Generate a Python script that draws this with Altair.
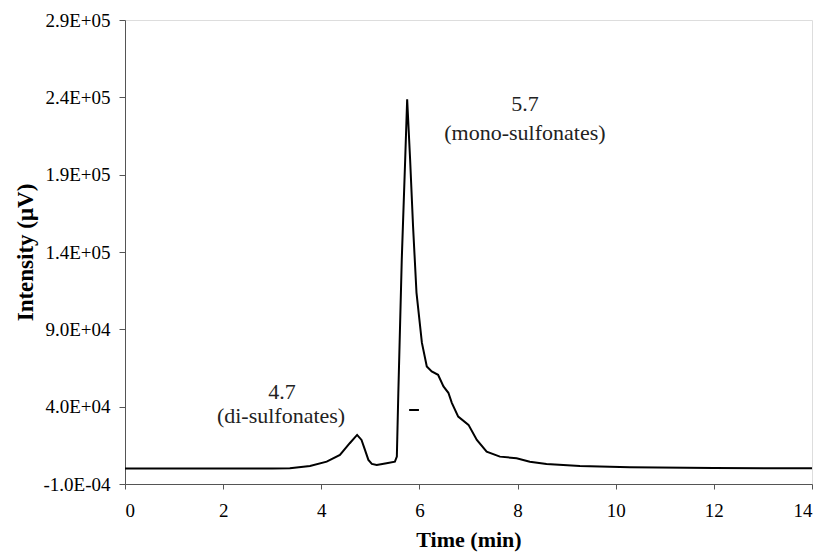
import altair as alt
import pandas as pd

# chromatogram trace
time_min = [0.0, 1.0, 2.0, 3.0, 3.36, 3.77, 4.11, 4.38, 4.58, 4.73, 4.82, 4.89, 4.96,
            5.03, 5.13, 5.33, 5.50, 5.54, 5.57, 5.64, 5.71, 5.75, 5.81, 5.87, 5.94,
            6.05, 6.15, 6.25, 6.38, 6.49, 6.59, 6.66, 6.79, 7.00, 7.17, 7.37, 7.64,
            7.98, 8.25, 8.59, 9.27, 10.29, 12.0, 14.0]
intensity = [0, 0, 0, 100, 200, 1660, 4450, 8790, 16370, 21750, 18500, 12030, 5550,
             2960, 2310, 3410, 4450, 7690, 48970, 135150, 199950, 238800, 199950, 156700, 113770,
             81370, 66000, 62770, 60630, 53050, 48970, 42490, 33610, 28230, 18510, 10930, 7690,
             6650, 4450, 2960, 1660, 820, 300, 200]

tick_values = [-10000, 40000, 90000, 140000, 190000, 240000, 290000]
tick_labels = ["-1.0E-04", "4.0E+04", "9.0E+04", "1.4E+05", "1.9E+05", "2.4E+05", "2.9E+05"]

ann_text = ["5.7", "(mono-sulfonates)", "4.7", "(di-sulfonates)"]
ann_t = [8.15, 8.15, 3.20, 3.18]
ann_v = [236000, 217000, 49500, 33800]

dash_t = [5.79]
dash_t2 = [5.99]
dash_v = [37850]

FONT = "Liberation Serif"

df = pd.DataFrame({"t": time_min, "v": intensity})
ann = pd.DataFrame({"label": ann_text, "t": ann_t, "v": ann_v})
dash = pd.DataFrame({"t": dash_t, "t2": dash_t2, "v": dash_v})

label_expr = "{" + ",".join(f"'{v}':'{l}'" for v, l in zip(tick_values, tick_labels)) + "}[datum.value]"

x_scale = alt.Scale(domain=[0, 14], nice=False, zero=False)
y_scale = alt.Scale(domain=[-10000, 290000], nice=False, zero=False)

line = alt.Chart(df).mark_line(color="black", strokeWidth=2).encode(
    x=alt.X("t:Q", scale=x_scale,
            axis=alt.Axis(title="Time (min)", values=list(range(0, 15, 2)), grid=False,
                          labelFont=FONT, labelFontSize=19, labelPadding=12, tickSize=5,
                          titleFont=FONT, titleFontSize=22, titleFontWeight="bold",
                          titlePadding=9, domainColor="#555", tickColor="#555",
                          labelColor="black", titleColor="black")),
    y=alt.Y("v:Q", scale=y_scale,
            axis=alt.Axis(title="Intensity (μV)", values=tick_values, labelExpr=label_expr,
                          grid=False, labelFont=FONT, labelFontSize=19, labelPadding=9,
                          tickSize=6, titleFont=FONT, titleFontSize=23,
                          titleFontWeight="bold", titlePadding=5, domainColor="#555",
                          tickColor="#555", labelColor="black", titleColor="black")),
)

texts = alt.Chart(ann).mark_text(font=FONT, fontSize=22, color="#222", baseline="middle",
                                 align="center").encode(
    x="t:Q", y="v:Q", text="label:N")

dash_mark = alt.Chart(dash).mark_rule(color="black", strokeWidth=2).encode(
    x="t:Q", x2="t2:Q", y="v:Q")

chart = (line + texts + dash_mark).properties(
    width=687, height=464,
    autosize=alt.AutoSizeParams(type="none"),
    padding={"left": 117, "top": 12, "right": 2, "bottom": 70},
).configure_view(stroke="#333", strokeWidth=1.5).configure(background="white")

chart.save("out.html", embed_options={"renderer": "svg", "actions": False})
